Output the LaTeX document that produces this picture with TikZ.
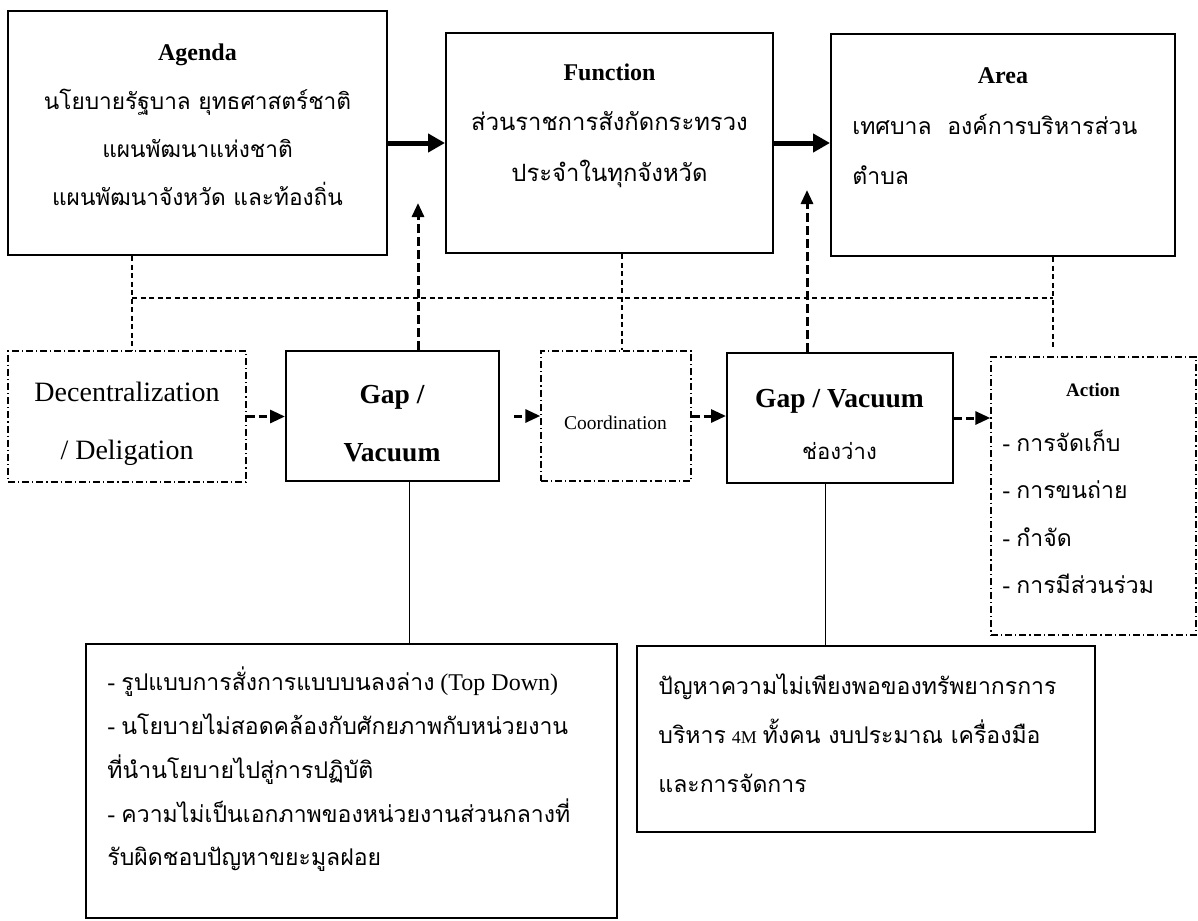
\documentclass[tikz,border=0pt]{standalone}
\usepackage{fontspec}
\setmainfont{Liberation Serif}
\newfontfamily\thaifont[Script=Thai,Scale=0.96]{Loma}
\newcommand\tha[1]{{\thaifont #1}}
\usetikzlibrary{arrows.meta}
\begin{document}
\begin{tikzpicture}[x=0.5pt,y=-0.5pt,
caja/.style={draw,line width=1pt,inner sep=0pt},
cajapunto/.style={draw,line width=0.7pt,dash pattern=on 3.5pt off 1.5pt on 0.6pt off 1.5pt,inner sep=0pt},
texto/.style={inner sep=0pt,align=center}]%escala en pixeles de la imagen
\tikzstyle{flecha}=[line width=2.5pt,-{Triangle[length=8.5pt,width=9pt]}] %flechas gruesas de arriba
\tikzstyle{paso}=[line width=1.5pt,dash pattern=on 4pt off 2pt,-{Triangle[length=7.5pt,width=6.5pt]}] %flechas de la fila central
\tikzstyle{subida}=[line width=1.5pt,dash pattern=on 4.5pt off 2pt,-{Triangle[length=7pt,width=6pt]}] %flechas que suben
\tikzstyle{enlace}=[line width=0.6pt,dash pattern=on 2.5pt off 1.75pt] %lineas de union
\tikzstyle{linea}=[line width=0.5pt]
\useasboundingbox (0,0) rectangle (1198,920);
% cajas de arriba
\node[caja,minimum width=189.5pt,minimum height=122pt] (agenda) at (197.5,133) {};
\node[caja,minimum width=163.5pt,minimum height=110pt] (function) at (609.5,143) {};
\node[caja,minimum width=172pt,minimum height=111pt] (area) at (1003,145) {};
% fila central
\node[cajapunto,minimum width=119pt,minimum height=65.5pt] (decen) at (127,416.5) {};
\node[caja,minimum width=106.5pt,minimum height=65pt] (gapA) at (392.5,416) {};
\node[cajapunto,minimum width=75pt,minimum height=65pt] (coord) at (616,416) {};
\node[caja,minimum width=113pt,minimum height=65pt] (gapB) at (840,418) {};
\node[cajapunto,minimum width=102.5pt,minimum height=139pt] (action) at (1093.5,496) {};
% cajas de abajo
\node[caja,minimum width=265.5pt,minimum height=137pt] (probA) at (351.5,781) {};
\node[caja,minimum width=229pt,minimum height=93pt] (probB) at (866,739) {};
% textos
\node[texto,font=\fontsize{11.8}{24.2}\selectfont] (agendaT) at (197.5,125)
{\textbf{\fontsize{12}{24.2}\selectfont Agenda}\\ \tha{นโยบายรัฐบาล ยุทธศาสตร์ชาติ}\\ \tha{แผนพัฒนาแห่งชาติ}\\ \tha{แผนพัฒนาจังหวัด และท้องถิ่น}};
\node[texto,font=\fontsize{12.4}{25.2}\selectfont] (functionT) at (609.5,125.5)
{\textbf{\fontsize{12}{25.2}\selectfont Function}\\ \tha{ส่วนราชการสังกัดกระทรวง}\\ \tha{ประจำในทุกจังหวัด}};
\node[texto,font=\bfseries\fontsize{12}{14}\selectfont] (areaT) at (1003,76) {Area};
\node[texto,align=left,anchor=west,font=\fontsize{12}{25}\selectfont] (areaD) at (852,149)
{\tha{เทศบาล\ \ องค์การบริหารส่วน}\\ \tha{ตำบล}};
\node[texto,font=\fontsize{14}{29}\selectfont] (decenT) at (127,424) {Decentralization\\ / Deligation};
\node[texto,font=\bfseries\fontsize{13.75}{29}\selectfont] (gapAT) at (392,424) {Gap /\\ Vacuum};
\node[texto,font=\fontsize{9.75}{12}\selectfont] (coordT) at (615.5,423) {Coordination};
\node[texto,font=\fontsize{13.75}{26}\selectfont] (gapBT) at (839.5,424) {\textbf{Gap / Vacuum}\\ {\fontsize{11.5}{26}\selectfont\tha{ช่องว่าง}}};
\node[texto,font=\bfseries\fontsize{9.5}{12}\selectfont] (actionT) at (1093,390) {Action};
\node[texto,align=left,anchor=west,font=\fontsize{12}{23.6}\selectfont] (actionD) at (1002,512)
{- \tha{การจัดเก็บ}\\ - \tha{การขนถ่าย}\\ - \tha{กำจัด}\\ - \tha{การมีส่วนร่วม}};
\node[texto,align=left,anchor=west,font=\fontsize{12}{21.9}\selectfont] (probAT) at (107,769.5)
{- \tha{รูปแบบการสั่งการแบบบนลงล่าง} (Top Down)\\
- \tha{นโยบายไม่สอดคล้องกับศักยภาพกับหน่วยงาน}\\
\tha{ที่นำนโยบายไปสู่การปฏิบัติ}\\
- \tha{ความไม่เป็นเอกภาพของหน่วยงานส่วนกลางที่}\\
\tha{รับผิดชอบปัญหาขยะมูลฝอย}};
\node[texto,align=left,anchor=west,font=\fontsize{12}{24.5}\selectfont] (probBT) at (658,733)
{\tha{ปัญหาความไม่เพียงพอของทรัพยากรการ}\\
\tha{บริหาร} {\fontsize{9}{9}\selectfont 4M} \tha{ทั้งคน งบประมาณ เครื่องมือ}\\
\tha{และการจัดการ}};
% conexiones
\draw[flecha] (agenda.east |- function.west) -- (function.west);
\draw[flecha] (function.east) -- (function.east -| area.west);
\coordinate (busA) at (132,298);
\coordinate (busF) at (622,298);
\coordinate (busR) at (1053,298);
\draw[enlace] (agenda.south -| busA) -- (decen.north -| busA);
\draw[enlace] (busA) -- (busR);
\draw[enlace] (function.south -| busF) -- (coord.north -| busF);
\draw[enlace] (area.south -| busR) -- ++(0,91);
\coordinate (puntaA) at (418,203);
\coordinate (puntaB) at (807,190);
\draw[subida] (gapA.north -| puntaA) -- (puntaA);
\draw[subida] (gapB.north -| puntaB) -- (puntaB);
\draw[paso] (decen.east) -- (decen.east -| gapA.west);
\draw[paso] ([xshift=7pt]gapA.east) -- (gapA.east -| coord.west);
\draw[paso] (coord.east) -- (coord.east -| gapB.west);
\draw[paso] (gapB.east) -- (gapB.east -| action.west);
\draw[linea] ([xshift=8.25pt]gapA.south) -- ++(0,163);
\draw[linea] ([xshift=-7.5pt]gapB.south) -- ++(0,163);
\end{tikzpicture}
\end{document}
